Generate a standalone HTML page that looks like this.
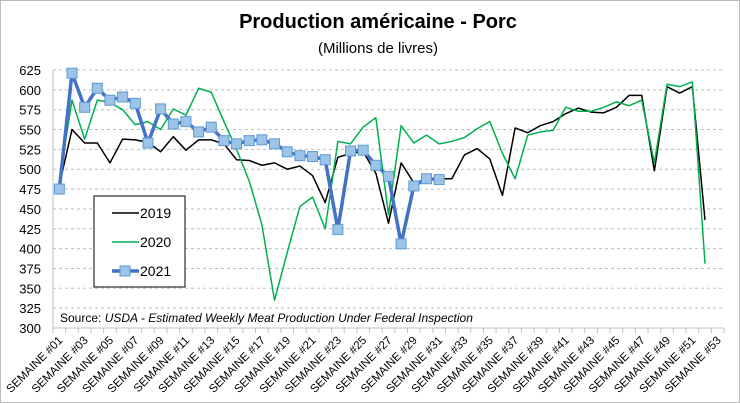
<!DOCTYPE html>
<html><head><meta charset="utf-8"><style>
body{margin:0;background:#fff;}
svg{display:block;font-family:"Liberation Sans",sans-serif;}
</style></head><body>
<svg id="c" width="740" height="403">
<rect x="0.5" y="0.5" width="739" height="402" fill="#fff" stroke="#bbb"/>
<text x="378" y="28" text-anchor="middle" font-size="20" font-weight="bold">Production américaine - Porc</text>
<text x="378" y="53" text-anchor="middle" font-size="15">(Millions de livres)</text>
<g id="grid"></g><g id="axes"></g><g id="series"></g>
<text x="60" y="322" font-size="12">Source: <tspan font-style="italic">USDA - Estimated Weekly Meat Production Under Federal Inspection</tspan></text>
<g>
<rect x="94" y="196" width="91" height="91" fill="#fff" stroke="#000"/>
<g><line x1="112" y1="213" x2="139" y2="213" stroke="#000" stroke-width="1.5"/><text x="140" y="218" font-size="14">2019</text></g>
<g><line x1="112" y1="242" x2="139" y2="242" stroke="#00b050" stroke-width="1.5"/><text x="140" y="247" font-size="14">2020</text></g>
<g><line x1="112" y1="271" x2="139" y2="271" stroke="#4472c4" stroke-width="3.5"/><rect x="120" y="266" width="10" height="10" fill="#9dc3e6" stroke="#5b9bd5"/><text x="140" y="276" font-size="14">2021</text></g>
</g>
</svg>
<script>
const weeks=[];for(let i=1;i<=53;i++)weeks.push('SEMAINE #'+String(i).padStart(2,'0'));
const yTicks=[300,325,350,375,400,425,450,475,500,525,550,575,600,625];
const s2019=[480,550,533,533,508,538,537,534,522,541,524,537,537,532,512,511,505,508,500,504,492,458,515,520,522,495,432,508,483,487,488,488,518,526,513,467,552,546,555,560,570,577,572,571,578,593,593,498,604,596,604,436];
const s2020=[485,587,538,587,584,575,556,560,550,576,568,602,597,560,525,485,430,335,395,453,465,425,535,532,553,565,443,555,533,543,532,535,540,551,560,520,488,543,547,549,578,573,573,578,585,580,587,508,607,604,610,381];
const s2021=[475,621,578,602,587,591,583,533,576,557,560,547,553,536,532,536,537,532,522,517,516,512,424,523,524,505,491,406,479,488,487];
const NS='http://www.w3.org/2000/svg';
const X0=53,X1=724,Y0=328,Y1=70,step=(X1-X0)/weeks.length;
const x=i=>X0+step*(i+0.5);
const y=v=>Y0-(v-300)/(625-300)*(Y0-Y1);
function el(t,a,p){const e=document.createElementNS(NS,t);for(const k in a)e.setAttribute(k,a[k]);p.appendChild(e);return e;}
const grid=document.getElementById('grid'),axes=document.getElementById('axes'),ser=document.getElementById('series');
yTicks.forEach(v=>{
 if(v>300){const g=el('line',{x1:X0,x2:X1,y1:y(v),y2:y(v),stroke:'#bfbfbf','stroke-dasharray':'3,3'},grid);
 
 }
 const t=el('text',{x:41,y:y(v)+5,'text-anchor':'end','font-size':13},axes);t.textContent=v;
 
 
});
const ax=el('line',{x1:X0,x2:X1,y1:Y0,y2:Y0,stroke:'#bfbfbf'},axes);


const ay=el('line',{x1:X0,x2:X0,y1:Y0,y2:Y1,stroke:'#bfbfbf'},axes);


for(let i=0;i<=weeks.length;i++){el('line',{x1:X0+step*i,x2:X0+step*i,y1:Y0,y2:Y0+5,stroke:'#bfbfbf'},axes);}
weeks.forEach((w,i)=>{if(i%2)return;
 const t=el('text',{x:x(i)+4,y:Y0+13,'text-anchor':'end','font-size':11.5,transform:`rotate(-45 ${x(i)+4} ${Y0+13})`},axes);t.textContent=w;
 
 
});
function line(d,c,w,name){
 const p=el('polyline',{points:d.map((v,i)=>x(i)+','+y(v)).join(' '),fill:'none',stroke:c,'stroke-width':w,'stroke-linejoin':'round'},ser);
 
 
}
line(s2019,'#000',1.5,'series-2019');
line(s2020,'#00b050',1.5,'series-2020');
line(s2021,'#4472c4',3.5,'series-2021');
s2021.forEach((v,i)=>{const r=el('rect',{x:x(i)-5,y:y(v)-5,width:10,height:10,fill:'#9dc3e6',stroke:'#5b9bd5'},ser);
 
 
});
</script>
</body></html>
